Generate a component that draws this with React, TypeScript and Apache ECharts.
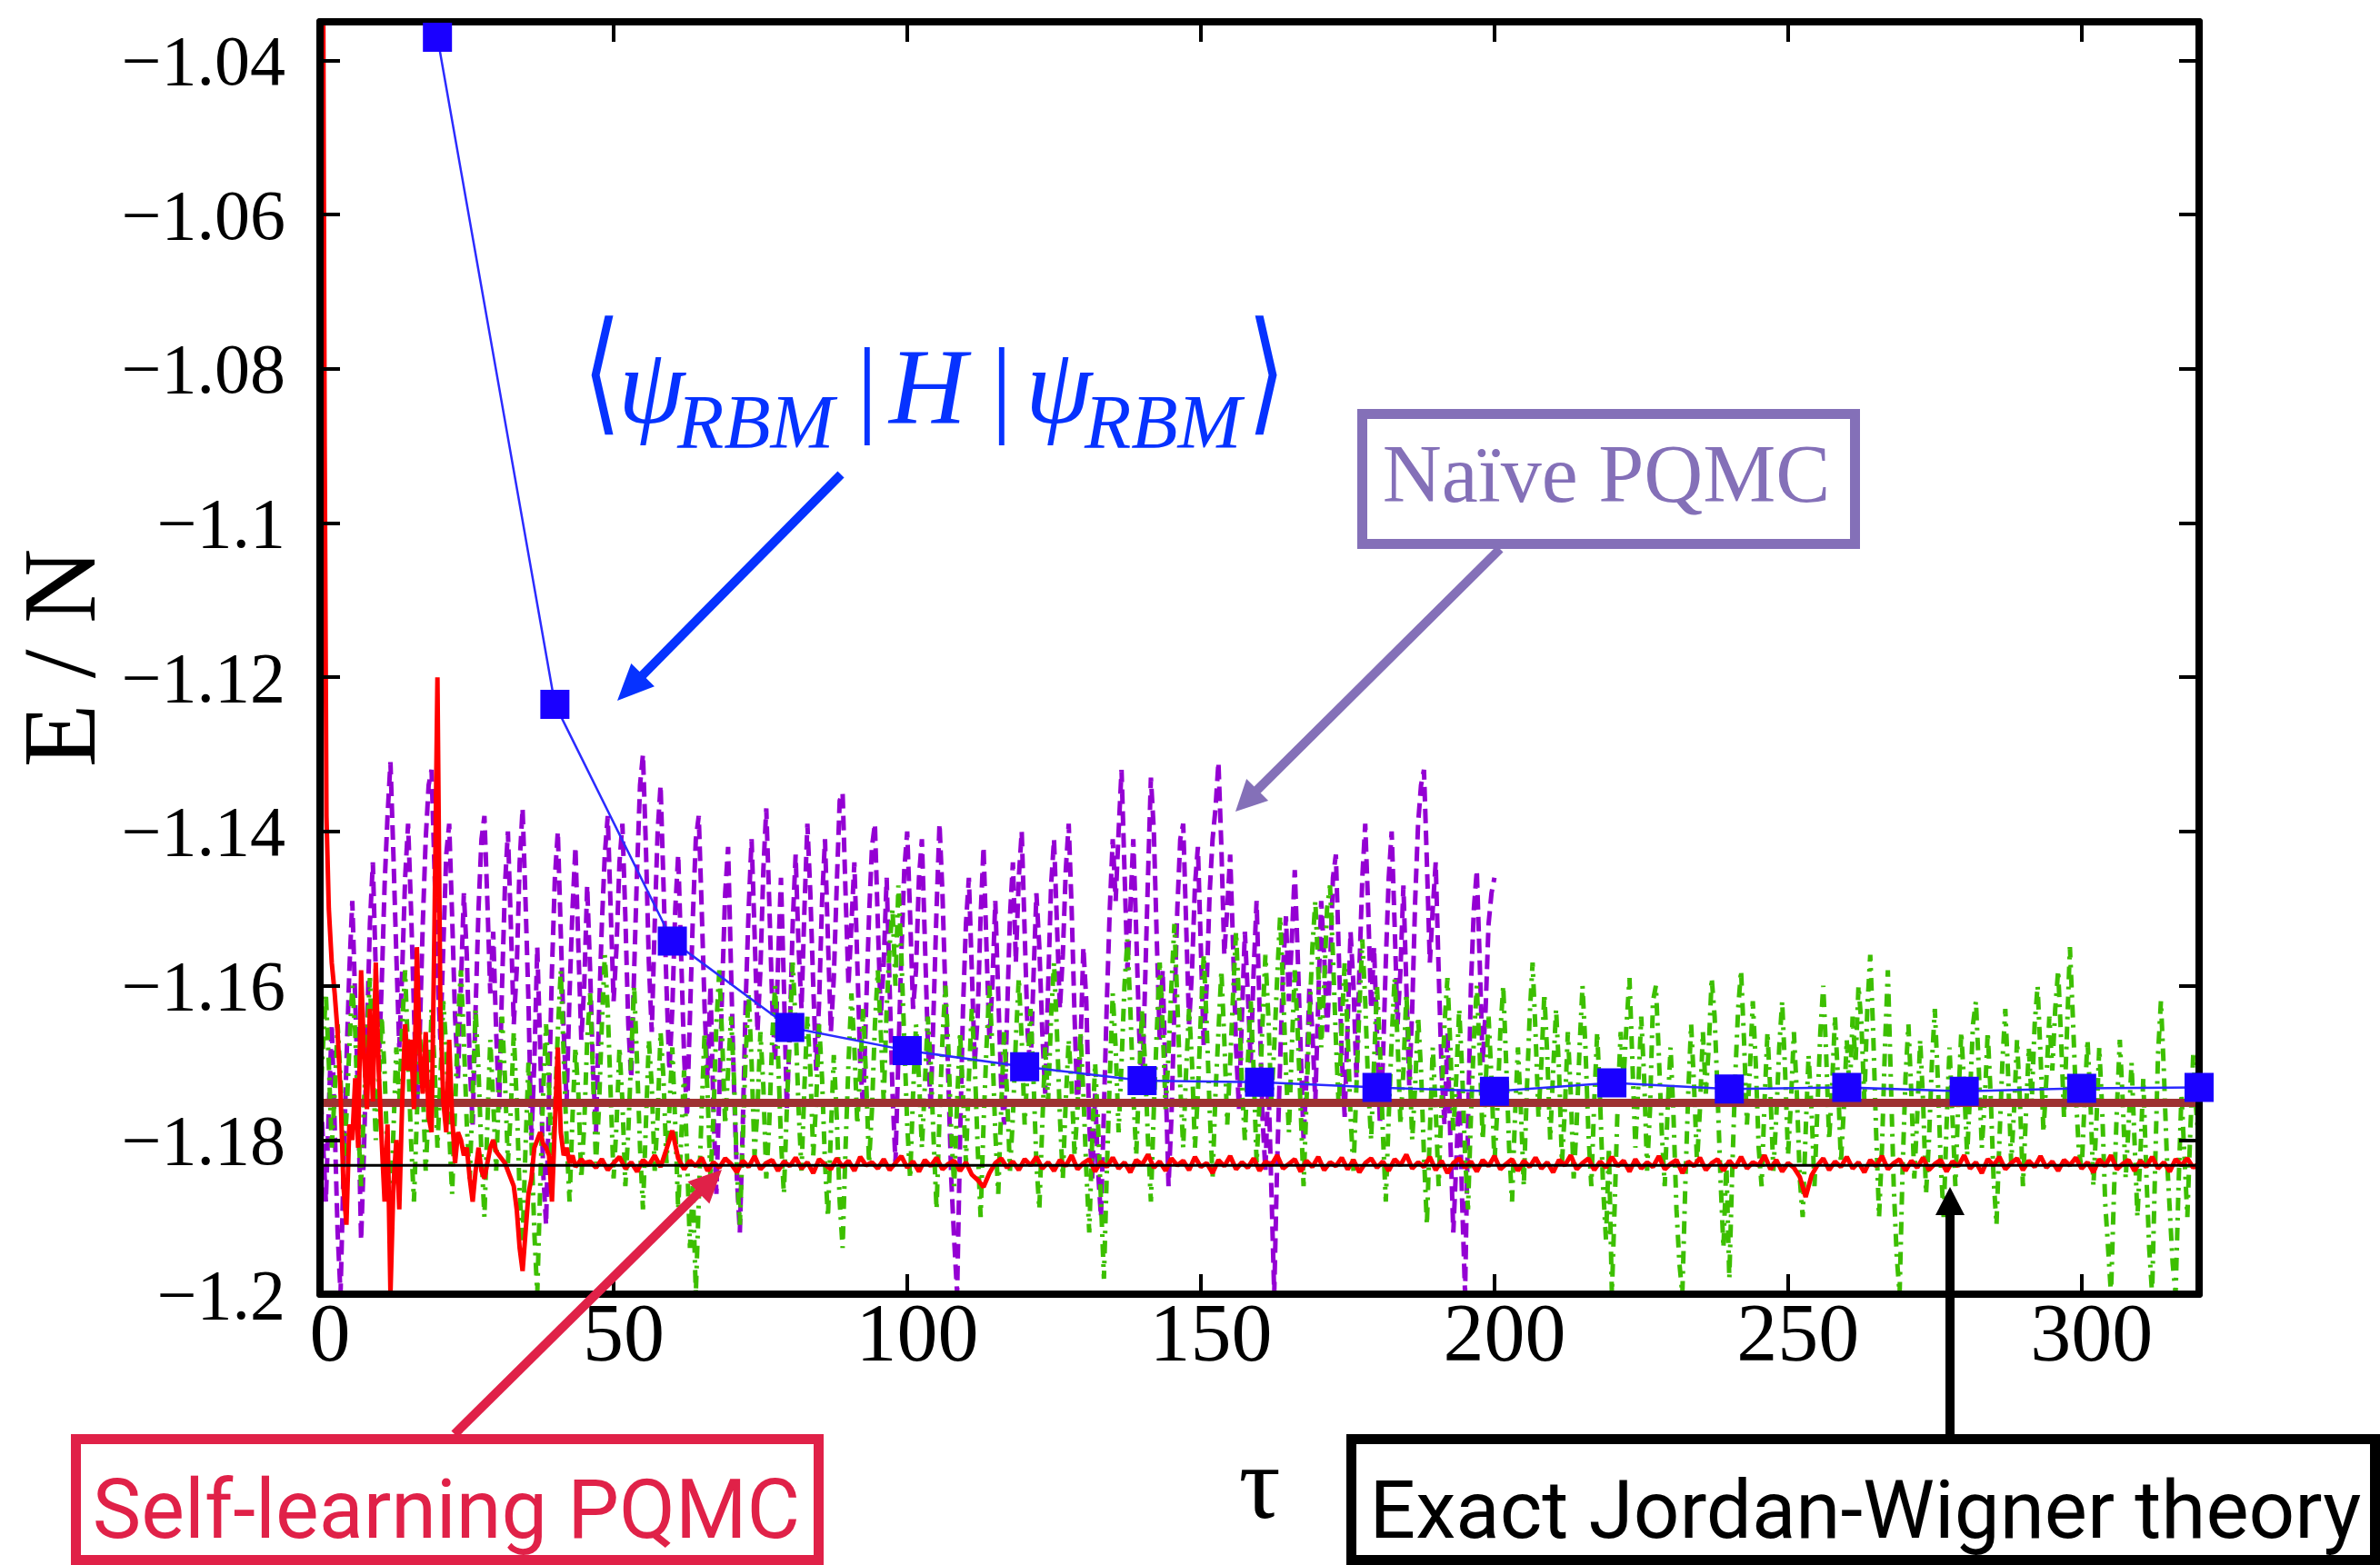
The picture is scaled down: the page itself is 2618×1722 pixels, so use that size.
import React, { useEffect, useRef } from "react";
import * as echarts from "echarts";

const X_MIN = 0;
const X_MAX = 320;
const Y_MIN = -1.2;
const Y_MAX = -1.035;

// <psi_RBM|H|psi_RBM> : tau and E/N
const RBM_TAU = [20, 40, 60, 80, 100, 120, 140, 160, 180, 200, 220, 240, 260, 280, 300, 320];
const RBM_E = [-1.037, -1.1235, -1.1542, -1.1654, -1.1684, -1.1705, -1.1723, -1.1725, -1.1732, -1.1737, -1.1726, -1.1734, -1.1732, -1.1737, -1.1733, -1.1732];

// Naive PQMC, tau = 0, 0.5, 1, ..., 200
const NAIVE_STEP = 0.5;
const NAIVE_E = [
  -1.172, -1.180, -1.188, -1.176, -1.165, -1.178, -1.192, -1.200, -1.184, -1.170,
  -1.158, -1.149, -1.162, -1.175, -1.193, -1.181, -1.166, -1.152, -1.144, -1.158,
  -1.170, -1.160, -1.147, -1.138, -1.131, -1.143, -1.156, -1.168, -1.158, -1.146,
  -1.139, -1.150, -1.163, -1.176, -1.166, -1.152, -1.141, -1.134, -1.132, -1.145,
  -1.158, -1.167, -1.155, -1.143, -1.139, -1.151, -1.164, -1.172, -1.160, -1.148,
  -1.156, -1.170, -1.178, -1.163, -1.150, -1.141, -1.138, -1.149, -1.161, -1.153,
  -1.166, -1.176, -1.160, -1.147, -1.140, -1.152, -1.165, -1.158, -1.144, -1.137,
  -1.149, -1.162, -1.180, -1.170, -1.155, -1.168, -1.184, -1.191, -1.174, -1.158,
  -1.146, -1.140, -1.153, -1.166, -1.175, -1.161, -1.150, -1.142, -1.155, -1.167,
  -1.160, -1.147, -1.158, -1.171, -1.179, -1.164, -1.152, -1.143, -1.138, -1.150,
  -1.162, -1.155, -1.144, -1.139, -1.151, -1.165, -1.172, -1.158, -1.145, -1.134,
  -1.130, -1.142, -1.157, -1.166, -1.152, -1.140, -1.134, -1.147, -1.160, -1.171,
  -1.163, -1.150, -1.143, -1.156, -1.169, -1.177, -1.164, -1.151, -1.141, -1.138,
  -1.150, -1.163, -1.172, -1.160, -1.176, -1.187, -1.174, -1.160, -1.148, -1.142,
  -1.158, -1.173, -1.185, -1.192, -1.178, -1.162, -1.150, -1.141, -1.153, -1.166,
  -1.158, -1.145, -1.137, -1.149, -1.162, -1.170, -1.157, -1.146, -1.160, -1.176,
  -1.166, -1.152, -1.143, -1.155, -1.163, -1.150, -1.139, -1.148, -1.160, -1.171,
  -1.162, -1.149, -1.141, -1.154, -1.166, -1.159, -1.147, -1.136, -1.135, -1.148,
  -1.160, -1.152, -1.144, -1.157, -1.170, -1.176, -1.163, -1.151, -1.142, -1.139,
  -1.152, -1.164, -1.157, -1.146, -1.160, -1.174, -1.183, -1.169, -1.156, -1.145,
  -1.140, -1.151, -1.163, -1.158, -1.146, -1.141, -1.154, -1.167, -1.176, -1.163,
  -1.150, -1.139, -1.148, -1.161, -1.172, -1.185, -1.193, -1.200, -1.180, -1.163,
  -1.152, -1.146, -1.158, -1.170, -1.164, -1.151, -1.142, -1.155, -1.167, -1.160,
  -1.149, -1.161, -1.173, -1.178, -1.164, -1.151, -1.144, -1.157, -1.146, -1.140,
  -1.153, -1.166, -1.171, -1.159, -1.148, -1.155, -1.166, -1.174, -1.160, -1.147,
  -1.141, -1.152, -1.163, -1.156, -1.145, -1.139, -1.150, -1.164, -1.176, -1.168,
  -1.155, -1.162, -1.178, -1.185, -1.174, -1.184, -1.190, -1.176, -1.162, -1.150,
  -1.141, -1.149, -1.140, -1.132, -1.145, -1.158, -1.150, -1.141, -1.153, -1.166,
  -1.174, -1.160, -1.146, -1.133, -1.140, -1.154, -1.167, -1.158, -1.172, -1.186,
  -1.177, -1.163, -1.150, -1.141, -1.139, -1.152, -1.165, -1.158, -1.147, -1.142,
  -1.155, -1.168, -1.160, -1.148, -1.141, -1.137, -1.131, -1.142, -1.156, -1.150,
  -1.143, -1.155, -1.168, -1.176, -1.164, -1.153, -1.161, -1.170, -1.158, -1.149,
  -1.163, -1.177, -1.184, -1.172, -1.186, -1.200, -1.183, -1.170, -1.158, -1.151,
  -1.162, -1.154, -1.145, -1.156, -1.168, -1.180, -1.172, -1.160, -1.166, -1.175,
  -1.162, -1.149, -1.156, -1.166, -1.158, -1.146, -1.143, -1.156, -1.169, -1.177,
  -1.165, -1.153, -1.160, -1.172, -1.158, -1.146, -1.139, -1.150, -1.163, -1.155,
  -1.166, -1.178, -1.170, -1.157, -1.146, -1.140, -1.152, -1.165, -1.158, -1.147,
  -1.160, -1.173, -1.163, -1.149, -1.139, -1.134, -1.132, -1.144, -1.157, -1.150,
  -1.144, -1.158, -1.171, -1.178, -1.166, -1.180, -1.192, -1.183, -1.173, -1.188,
  -1.200, -1.178, -1.160, -1.150, -1.145, -1.157, -1.170, -1.163, -1.152, -1.148,
  -1.146,
];

// second (green) PQMC run, tau = 0, 0.5, 1, ..., 320
const GREEN_STEP = 0.5;
const GREEN_E = [
  -1.176, -1.168, -1.161, -1.170, -1.181, -1.174, -1.165, -1.172, -1.183, -1.177,
  -1.168, -1.160, -1.166, -1.178, -1.186, -1.175, -1.167, -1.159, -1.170, -1.180,
  -1.173, -1.164, -1.171, -1.183, -1.190, -1.179, -1.168, -1.175, -1.165, -1.158,
  -1.169, -1.180, -1.188, -1.177, -1.166, -1.173, -1.184, -1.176, -1.163, -1.170,
  -1.181, -1.172, -1.162, -1.168, -1.179, -1.187, -1.176, -1.165, -1.158, -1.167,
  -1.178, -1.185, -1.174, -1.163, -1.171, -1.182, -1.190, -1.178, -1.167, -1.175,
  -1.184, -1.173, -1.164, -1.172, -1.183, -1.176, -1.166, -1.175, -1.187, -1.193,
  -1.181, -1.170, -1.180, -1.192, -1.200, -1.186, -1.174, -1.165, -1.173, -1.184,
  -1.176, -1.166, -1.158, -1.169, -1.180, -1.188, -1.177, -1.168, -1.174, -1.185,
  -1.178, -1.167, -1.161, -1.172, -1.183, -1.176, -1.165, -1.156, -1.163, -1.174,
  -1.185, -1.178, -1.168, -1.175, -1.186, -1.179, -1.169, -1.160, -1.170, -1.181,
  -1.189, -1.178, -1.167, -1.173, -1.184, -1.177, -1.166, -1.172, -1.183, -1.176,
  -1.168, -1.178, -1.189, -1.180, -1.171, -1.182, -1.194, -1.186, -1.200, -1.188,
  -1.176, -1.166, -1.174, -1.185, -1.177, -1.165, -1.158, -1.167, -1.178, -1.171,
  -1.164, -1.172, -1.184, -1.191, -1.180, -1.169, -1.161, -1.170, -1.182, -1.176,
  -1.166, -1.173, -1.185, -1.178, -1.167, -1.160, -1.169, -1.180, -1.187, -1.176,
  -1.166, -1.157, -1.165, -1.176, -1.184, -1.173, -1.164, -1.171, -1.182, -1.175,
  -1.165, -1.172, -1.183, -1.190, -1.179, -1.169, -1.177, -1.188, -1.194, -1.181,
  -1.170, -1.161, -1.168, -1.178, -1.171, -1.163, -1.172, -1.183, -1.176, -1.165,
  -1.158, -1.166, -1.175, -1.163, -1.155, -1.150, -1.160, -1.147, -1.156, -1.167,
  -1.178, -1.185, -1.174, -1.165, -1.172, -1.181, -1.173, -1.164, -1.170, -1.180,
  -1.189, -1.177, -1.167, -1.160, -1.168, -1.179, -1.186, -1.175, -1.166, -1.174,
  -1.183, -1.172, -1.163, -1.170, -1.181, -1.190, -1.178, -1.168, -1.160, -1.168,
  -1.179, -1.187, -1.176, -1.166, -1.174, -1.184, -1.177, -1.167, -1.159, -1.167,
  -1.178, -1.171, -1.163, -1.172, -1.183, -1.189, -1.178, -1.168, -1.175, -1.164,
  -1.157, -1.166, -1.177, -1.185, -1.175, -1.167, -1.173, -1.182, -1.176, -1.166,
  -1.174, -1.184, -1.192, -1.180, -1.170, -1.178, -1.188, -1.198, -1.184, -1.172,
  -1.161, -1.168, -1.179, -1.170, -1.160, -1.154, -1.163, -1.174, -1.182, -1.172,
  -1.163, -1.170, -1.180, -1.188, -1.176, -1.166, -1.157, -1.165, -1.176, -1.169,
  -1.160, -1.152, -1.162, -1.173, -1.181, -1.171, -1.163, -1.170, -1.181, -1.174,
  -1.164, -1.156, -1.165, -1.176, -1.185, -1.174, -1.166, -1.158, -1.167, -1.178,
  -1.170, -1.161, -1.153, -1.162, -1.173, -1.180, -1.170, -1.162, -1.171, -1.183,
  -1.175, -1.165, -1.156, -1.164, -1.175, -1.168, -1.159, -1.151, -1.160, -1.171,
  -1.179, -1.168, -1.158, -1.166, -1.176, -1.186, -1.175, -1.164, -1.155, -1.149,
  -1.158, -1.168, -1.160, -1.150, -1.147, -1.156, -1.167, -1.176, -1.165, -1.157,
  -1.166, -1.177, -1.184, -1.173, -1.163, -1.154, -1.162, -1.173, -1.180, -1.170,
  -1.160, -1.168, -1.179, -1.188, -1.177, -1.167, -1.159, -1.167, -1.178, -1.171,
  -1.161, -1.169, -1.180, -1.173, -1.164, -1.171, -1.182, -1.191, -1.179, -1.168,
  -1.176, -1.186, -1.175, -1.165, -1.159, -1.168, -1.179, -1.172, -1.163, -1.171,
  -1.182, -1.189, -1.177, -1.167, -1.160, -1.169, -1.180, -1.173, -1.164, -1.172,
  -1.183, -1.176, -1.166, -1.160, -1.170, -1.181, -1.188, -1.177, -1.168, -1.176,
  -1.186, -1.174, -1.164, -1.157, -1.166, -1.177, -1.170, -1.161, -1.169, -1.180,
  -1.171, -1.163, -1.171, -1.183, -1.176, -1.166, -1.174, -1.185, -1.178, -1.168,
  -1.160, -1.168, -1.179, -1.186, -1.175, -1.166, -1.175, -1.186, -1.193, -1.181,
  -1.200, -1.188, -1.175, -1.166, -1.172, -1.165, -1.159, -1.170, -1.181, -1.173,
  -1.164, -1.172, -1.184, -1.176, -1.162, -1.160, -1.169, -1.179, -1.186, -1.176,
  -1.168, -1.177, -1.189, -1.196, -1.200, -1.186, -1.174, -1.165, -1.173, -1.183,
  -1.176, -1.166, -1.174, -1.168, -1.159, -1.164, -1.174, -1.185, -1.194, -1.183,
  -1.198, -1.184, -1.172, -1.163, -1.158, -1.167, -1.178, -1.171, -1.162, -1.170,
  -1.181, -1.186, -1.175, -1.166, -1.174, -1.184, -1.177, -1.168, -1.162, -1.171,
  -1.182, -1.175, -1.166, -1.174, -1.185, -1.190, -1.179, -1.169, -1.176, -1.186,
  -1.176, -1.166, -1.160, -1.169, -1.180, -1.173, -1.164, -1.172, -1.183, -1.176,
  -1.167, -1.174, -1.164, -1.170, -1.160, -1.165, -1.175, -1.163, -1.156, -1.166,
  -1.179, -1.190, -1.181, -1.168, -1.158, -1.172, -1.186, -1.195, -1.200, -1.184,
  -1.172, -1.165, -1.174, -1.185, -1.177, -1.167, -1.175, -1.187, -1.180, -1.170,
  -1.163, -1.172, -1.183, -1.190, -1.178, -1.168, -1.177, -1.186, -1.175, -1.166,
  -1.173, -1.182, -1.174, -1.165, -1.162, -1.171, -1.181, -1.175, -1.166, -1.174,
  -1.185, -1.191, -1.180, -1.170, -1.163, -1.172, -1.183, -1.176, -1.167, -1.175,
  -1.186, -1.177, -1.168, -1.175, -1.165, -1.160, -1.169, -1.179, -1.172, -1.164,
  -1.171, -1.163, -1.158, -1.167, -1.177, -1.166, -1.155, -1.164, -1.174, -1.181,
  -1.184, -1.175, -1.167, -1.175, -1.186, -1.178, -1.168, -1.176, -1.188, -1.194,
  -1.200, -1.187, -1.176, -1.167, -1.175, -1.185, -1.178, -1.170, -1.180, -1.190,
  -1.182, -1.172, -1.184, -1.194, -1.200, -1.184, -1.169, -1.162, -1.171, -1.182,
  -1.189, -1.196, -1.200, -1.186, -1.174, -1.182, -1.190, -1.179, -1.169, -1.176,
  -1.181,
];

// Self-learning PQMC, early transient (tau listed explicitly)
const SL_EARLY_TAU = [
  0, 0.5, 0.8, 1.1, 1.5, 2, 2.5, 3, 3.5, 4, 4.5, 5, 5.5, 6, 6.5, 7, 7.5, 8, 8.5, 9, 9.5,
  10, 10.5, 11, 11.5, 12, 12.5, 13, 13.5, 14, 14.5, 15, 15.5, 16, 16.5, 17, 17.5, 18, 18.5,
  19, 19.5, 20, 20.5, 21, 21.5, 22, 22.5, 23, 23.5, 24, 24.5, 25, 25.5, 26, 26.5, 27, 27.5,
  28, 28.5, 29, 29.5, 30, 30.5, 31, 31.5, 32, 32.5, 33, 33.5, 34, 34.5, 35, 35.5, 36, 36.5,
  37, 37.5, 38, 38.5, 39, 39.5, 40, 40.5, 41, 41.5, 42, 42.5, 43, 43.5, 44, 44.5, 45,
];
const SL_EARLY_E = [
  -1.0, -1.02, -1.09, -1.138, -1.15, -1.157, -1.161, -1.166, -1.174, -1.186, -1.191, -1.178, -1.18, -1.172, -1.181, -1.158, -1.169, -1.176, -1.163, -1.175, -1.157,
  -1.171, -1.18, -1.188, -1.178, -1.2, -1.186, -1.18, -1.189, -1.175, -1.165, -1.171, -1.167, -1.176, -1.155, -1.169, -1.174, -1.166, -1.177,
  -1.179, -1.152, -1.12, -1.163, -1.175, -1.179, -1.167, -1.177, -1.183, -1.179, -1.18, -1.182, -1.181, -1.185, -1.188, -1.184, -1.181, -1.184,
  -1.185, -1.183, -1.181, -1.18, -1.1815, -1.182, -1.1825, -1.183, -1.184, -1.185, -1.186, -1.189, -1.194, -1.197, -1.192, -1.187, -1.185, -1.181,
  -1.18, -1.179, -1.1805, -1.181, -1.182, -1.188, -1.178, -1.168, -1.179, -1.182, -1.181, -1.183, -1.182, -1.1835, -1.183, -1.1825, -1.183,
];
// Self-learning PQMC, converged part: tau = 46, 47, ..., 320
const SL_LATE_TAU0 = 46;
const SL_LATE_E = [
  -1.1828, -1.1836, -1.1825, -1.1839, -1.1830, -1.1822, -1.1837, -1.1829, -1.1841, -1.1826,
  -1.1833, -1.1820, -1.1835, -1.1812, -1.1788, -1.1824, -1.1838, -1.1827, -1.1834, -1.1823,
  -1.1840, -1.1829, -1.1836, -1.1824, -1.1831, -1.1842, -1.1827, -1.1835, -1.1821, -1.1838,
  -1.1830, -1.1826, -1.1840, -1.1828, -1.1834, -1.1823, -1.1837, -1.1829, -1.1843, -1.1825,
  -1.1832, -1.1838, -1.1824, -1.1835, -1.1827, -1.1840, -1.1822, -1.1833, -1.1829, -1.1837,
  -1.1825, -1.1839, -1.1830, -1.1821, -1.1836, -1.1828, -1.1841, -1.1826, -1.1834, -1.1823,
  -1.1838, -1.1831, -1.1827, -1.1840, -1.1829, -1.1845, -1.1852, -1.1861, -1.1843, -1.1830,
  -1.1824, -1.1836, -1.1828, -1.1839, -1.1825, -1.1833, -1.1822, -1.1837, -1.1829, -1.1840,
  -1.1826, -1.1834, -1.1820, -1.1838, -1.1830, -1.1825, -1.1841, -1.1828, -1.1835, -1.1823,
  -1.1837, -1.1829, -1.1842, -1.1826, -1.1832, -1.1819, -1.1836, -1.1828, -1.1840, -1.1824,
  -1.1833, -1.1827, -1.1839, -1.1822, -1.1835, -1.1830, -1.1843, -1.1826, -1.1834, -1.1821,
  -1.1838, -1.1829, -1.1836, -1.1824, -1.1840, -1.1828, -1.1833, -1.1820, -1.1837, -1.1831,
  -1.1825, -1.1841, -1.1827, -1.1835, -1.1822, -1.1839, -1.1829, -1.1834, -1.1823, -1.1838,
  -1.1826, -1.1842, -1.1830, -1.1824, -1.1836, -1.1828, -1.1840, -1.1825, -1.1833, -1.1819,
  -1.1837, -1.1829, -1.1835, -1.1822, -1.1839, -1.1827, -1.1843, -1.1830, -1.1824, -1.1836,
  -1.1828, -1.1841, -1.1826, -1.1834, -1.1821, -1.1838, -1.1831, -1.1825, -1.1840, -1.1827,
  -1.1835, -1.1823, -1.1837, -1.1829, -1.1842, -1.1826, -1.1833, -1.1820, -1.1838, -1.1830,
  -1.1824, -1.1839, -1.1828, -1.1836, -1.1822, -1.1834, -1.1827, -1.1841, -1.1825, -1.1837,
  -1.1829, -1.1835, -1.1821, -1.1838, -1.1831, -1.1826, -1.1843, -1.1828, -1.1834, -1.1823,
  -1.1839, -1.1830, -1.1825, -1.1840, -1.1827, -1.1836, -1.1822, -1.1837, -1.1829, -1.1833,
  -1.1820, -1.1838, -1.1826, -1.1841, -1.1830, -1.1836, -1.1848, -1.1874, -1.1846, -1.1833,
  -1.1824, -1.1839, -1.1828, -1.1835, -1.1822, -1.1837, -1.1829, -1.1842, -1.1826, -1.1834,
  -1.1821, -1.1838, -1.1830, -1.1825, -1.1840, -1.1827, -1.1836, -1.1823, -1.1839, -1.1831,
  -1.1826, -1.1841, -1.1828, -1.1834, -1.1820, -1.1837, -1.1829, -1.1843, -1.1825, -1.1833,
  -1.1822, -1.1838, -1.1830, -1.1824, -1.1839, -1.1827, -1.1835, -1.1821, -1.1836, -1.1828,
  -1.1840, -1.1826, -1.1833, -1.1823, -1.1837, -1.1829, -1.1842, -1.1825, -1.1834, -1.1820,
  -1.1838, -1.1831, -1.1826, -1.1840, -1.1827, -1.1835, -1.1822, -1.1837, -1.1829, -1.1841,
  -1.1825, -1.1833, -1.1824, -1.1836, -1.1830,
];

// horizontal reference levels
const BROWN_LEVEL = -1.1752;
const EXACT_LEVEL = -1.1833;

// texts
const FORMULA_PARTS = ["⟨", "ψ", "RBM", "|", "H", "|", "ψ", "RBM", "⟩"];
const NAIVE_LABEL = "Naïve PQMC";
const SL_LABEL = "Self-learning PQMC";
const EXACT_LABEL = "Exact Jordan-Wigner theory";

const BLUE_TXT = "#0632ff";
const PURPLE_TXT = "#8470b8";
const CRIMSON = "#e02148";

function arrow(x1: number, y1: number, x2: number, y2: number, color: string, w: number, headLen: number, headW: number) {
  const dx = x2 - x1;
  const dy = y2 - y1;
  const L = Math.hypot(dx, dy);
  const ux = dx / L;
  const uy = dy / L;
  const bx = x2 - ux * headLen;
  const by = y2 - uy * headLen;
  const nx = -uy;
  const ny = ux;
  return [
    {
      type: "line",
      z: 100,
      shape: { x1, y1, x2: bx + ux * 3, y2: by + uy * 3 },
      style: { stroke: color, lineWidth: w },
    },
    {
      type: "polygon",
      z: 100,
      shape: {
        points: [
          [x2, y2],
          [bx + (nx * headW) / 2, by + (ny * headW) / 2],
          [bx - (nx * headW) / 2, by - (ny * headW) / 2],
        ],
      },
      style: { fill: color },
    },
  ];
}

function txt(text: string, x: number, y: number, font: string, color: string, align = "left", scaleY = 1) {
  return {
    type: "text",
    z: 100,
    x,
    y,
    scaleY,
    style: { text, font, fill: color, textAlign: align, textVerticalAlign: "middle" },
  };
}

export default function App() {
  const ref = useRef<HTMLDivElement>(null);

  useEffect(() => {
    document.body.style.margin = "0";
    if (!ref.current) return;
    const chart = echarts.init(ref.current, null, { renderer: "svg" });

    const naiveData = NAIVE_E.map((v, i) => [i * NAIVE_STEP, v]);
    const greenData = GREEN_E.map((v, i) => [i * GREEN_STEP, v]);
    const slData = SL_EARLY_TAU.map((t, i) => [t, SL_EARLY_E[i]]).concat(
      SL_LATE_E.map((v, i) => [SL_LATE_TAU0 + i, v])
    );
    const rbmData = RBM_TAU.map((t, i) => [t, RBM_E[i]]);

    const axisLine = { show: true, onZero: false, lineStyle: { color: "#000", width: 8 } };
    const axisTick = { show: true, inside: true, length: 22, lineStyle: { color: "#000", width: 4 } };

    const fSerif = "'Liberation Serif', 'Times New Roman', serif";
    const mainSize = 118;
    const subSize = 84;
    const baseY = 465 - 0.3375 * mainSize;
    const subY = 493 - 0.3375 * subSize;
    const brSize = 108;
    const brScale = 1.36;
    const brY = 436 - 0.19 * brSize * brScale;

    const graphic: any[] = [
      // formula
      txt(FORMULA_PARTS[0], 641, brY, `${brSize}px 'DejaVu Serif'`, BLUE_TXT, "left", brScale),
      txt(FORMULA_PARTS[1], 680, baseY, `italic ${mainSize}px ${fSerif}`, BLUE_TXT),
      txt(FORMULA_PARTS[2], 745, subY, `italic ${subSize}px ${fSerif}`, BLUE_TXT),
      txt(FORMULA_PARTS[3], 942, baseY, `${mainSize}px ${fSerif}`, BLUE_TXT),
      txt(FORMULA_PARTS[4], 978, baseY, `italic ${mainSize}px ${fSerif}`, BLUE_TXT),
      txt(FORMULA_PARTS[5], 1090, baseY, `${mainSize}px ${fSerif}`, BLUE_TXT),
      txt(FORMULA_PARTS[6], 1128, baseY, `italic ${mainSize}px ${fSerif}`, BLUE_TXT),
      txt(FORMULA_PARTS[7], 1193, subY, `italic ${subSize}px ${fSerif}`, BLUE_TXT),
      txt(FORMULA_PARTS[8], 1372, brY, `${brSize}px 'DejaVu Serif'`, BLUE_TXT, "left", brScale),
      ...arrow(925, 522, 679, 771, BLUE_TXT, 10, 40, 36),

      // Naive PQMC box
      {
        type: "rect",
        z: 100,
        shape: { x: 1498.5, y: 455.5, width: 542, height: 143 },
        style: { fill: "#fff", stroke: PURPLE_TXT, lineWidth: 11 },
      },
      txt(NAIVE_LABEL, 1767, 552 - 0.3375 * 90, `90px ${fSerif}`, PURPLE_TXT, "center"),
      ...arrow(1650, 604, 1359, 893, PURPLE_TXT, 10, 34, 34),

      // Self-learning PQMC box
      {
        type: "rect",
        z: 100,
        shape: { x: 83.5, y: 1583.5, width: 817, height: 133 },
        style: { fill: "#fff", stroke: CRIMSON, lineWidth: 11 },
      },
      txt(SL_LABEL, 491, 1692 - 0.342 * 90, "90px Roboto", CRIMSON, "center"),
      ...arrow(500, 1578, 794, 1287, CRIMSON, 10, 36, 34),

      // Exact Jordan-Wigner box
      {
        type: "rect",
        z: 100,
        shape: { x: 1486.5, y: 1583.5, width: 1126, height: 133 },
        style: { fill: "#fff", stroke: "#000", lineWidth: 11 },
      },
      txt(EXACT_LABEL, 2052, 1692 - 0.342 * 89, "89px Roboto", "#000", "center"),
      ...arrow(2145, 1578, 2145, 1306, "#000", 10, 31, 32),
    ];

    const option: any = {
      animation: false,
      backgroundColor: "#fff",
      grid: { left: 352, right: 199, top: 24, bottom: 298, containLabel: false },
      xAxis: [
        {
          type: "value",
          position: "bottom",
          min: X_MIN,
          max: X_MAX,
          interval: 50,
          z: 7,
          axisLine,
          axisTick,
          splitLine: { show: false },
          axisLabel: {
            show: true,
            showMaxLabel: false,
            margin: -3,
            padding: [0, 0, 0, 22],
            color: "#000",
            fontSize: 90,
            fontFamily: fSerif,
          },
          name: "τ",
          nameLocation: "middle",
          nameGap: 150,
          nameTextStyle: { color: "#000", fontSize: 115, fontFamily: fSerif },
        },
        {
          type: "value",
          position: "top",
          min: X_MIN,
          max: X_MAX,
          interval: 50,
          z: 7,
          axisLine,
          axisTick,
          splitLine: { show: false },
          axisLabel: { show: false },
        },
      ],
      yAxis: [
        {
          type: "value",
          position: "left",
          min: Y_MIN,
          max: Y_MAX,
          interval: 0.02,
          z: 7,
          axisLine,
          axisTick,
          splitLine: { show: false },
          axisLabel: {
            show: true,
            showMaxLabel: false,
            margin: 38,
            color: "#000",
            fontSize: 78,
            fontFamily: fSerif,
            formatter: (v: number) =>
              "−" + Math.abs(v).toFixed(2).replace(/0+$/, "").replace(/\.$/, ""),
          },
          name: "E / N",
          nameLocation: "middle",
          nameGap: 215,
          nameRotate: 90,
          nameTextStyle: { color: "#000", fontSize: 114, fontFamily: fSerif },
        },
        {
          type: "value",
          position: "right",
          min: Y_MIN,
          max: Y_MAX,
          interval: 0.02,
          z: 7,
          axisLine,
          axisTick,
          splitLine: { show: false },
          axisLabel: { show: false },
        },
      ],
      series: [
        {
          name: "Naive PQMC",
          type: "line",
          data: naiveData,
          showSymbol: false,
          silent: true,
          z: 2,
          lineStyle: { color: "#9400d3", width: 5, type: [16, 8] },
        },
        {
          name: "PQMC run 2",
          type: "line",
          data: greenData,
          showSymbol: false,
          silent: true,
          z: 3,
          lineStyle: { color: "#3cbf00", width: 5, type: [14, 8, 3, 8] },
        },
        {
          name: "reference",
          type: "line",
          data: [
            [X_MIN, BROWN_LEVEL],
            [X_MAX, BROWN_LEVEL],
          ],
          showSymbol: false,
          silent: true,
          z: 4,
          lineStyle: { color: "#9e3232", width: 9 },
        },
        {
          name: "Self-learning PQMC",
          type: "line",
          data: slData,
          showSymbol: false,
          silent: true,
          z: 5,
          lineStyle: { color: "#ff0000", width: 5 },
        },
        {
          name: "Exact Jordan-Wigner theory",
          type: "line",
          data: [
            [X_MIN, EXACT_LEVEL],
            [X_MAX, EXACT_LEVEL],
          ],
          showSymbol: false,
          silent: true,
          z: 6,
          lineStyle: { color: "#000", width: 3 },
        },
        {
          name: "RBM",
          type: "line",
          data: rbmData,
          symbol: "rect",
          symbolSize: 32,
          showSymbol: true,
          silent: true,
          clip: false,
          z: 8,
          itemStyle: { color: "#1a00ff" },
          lineStyle: { color: "#2b2bff", width: 2.5 },
        },
      ],
      graphic,
    };

    chart.setOption(option);
    return () => chart.dispose();
  }, []);

  return <div ref={ref} style={{ width: 2618, height: 1722 }} />;
}
